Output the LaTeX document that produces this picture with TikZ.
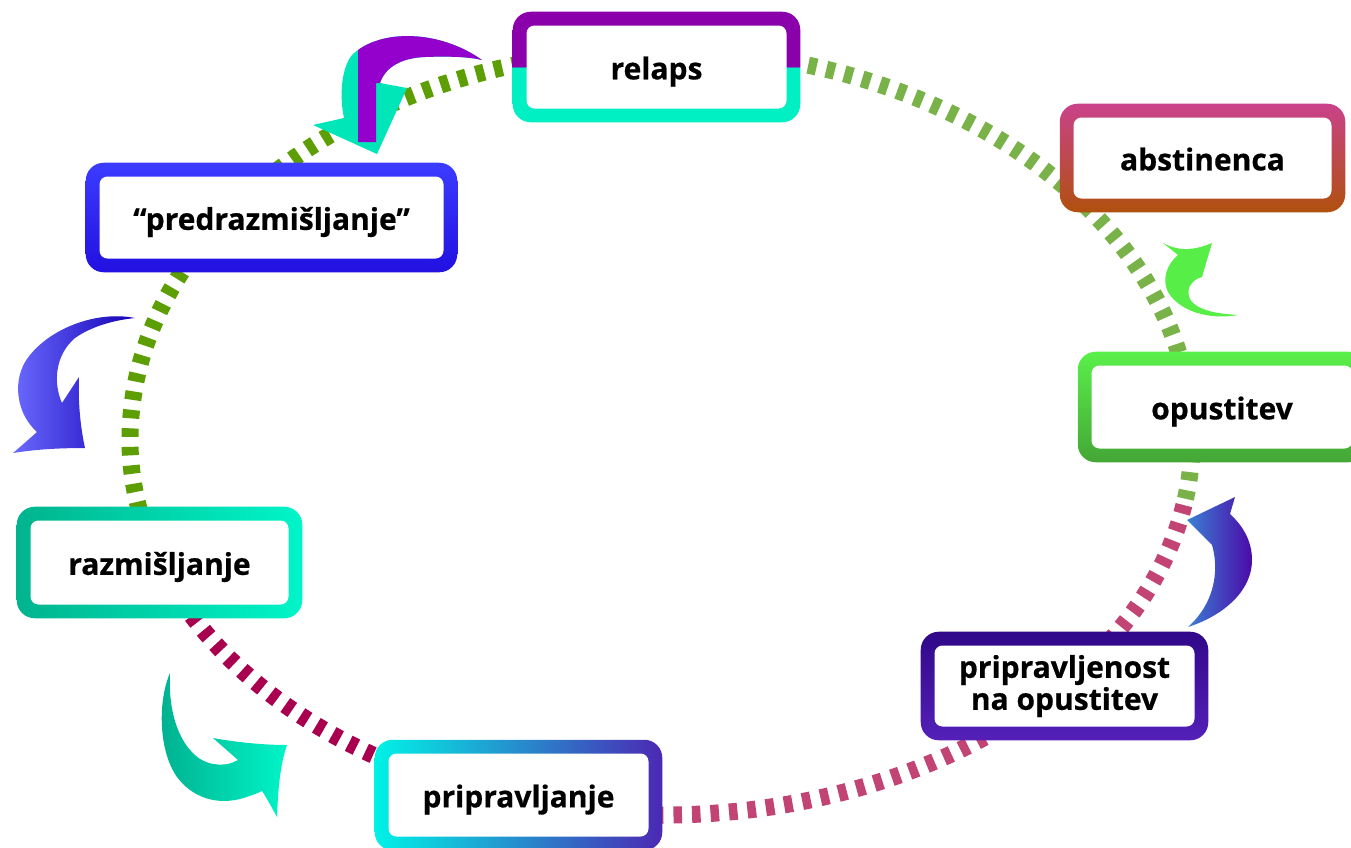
\documentclass[tikz,border=0pt]{standalone}
\usepackage{fontspec}
\setmainfont{Open Sans}[BoldFeatures={FakeBold=0.6}]
\usetikzlibrary{calc,backgrounds}
\definecolor{ringGa}{HTML}{5C9E04}
\definecolor{ringGb}{HTML}{7AB24A}
\definecolor{ringRa}{HTML}{A8004E}
\definecolor{ringRb}{HTML}{C24474}
\definecolor{rlPurp}{HTML}{8A00AA}
\definecolor{rlTeal}{HTML}{00F0C4}
\definecolor{abTop}{HTML}{CA428A}
\definecolor{abBot}{HTML}{B0500E}
\definecolor{prTop}{HTML}{3C3CFF}
\definecolor{prBot}{HTML}{2210E0}
\definecolor{opTop}{HTML}{5AF04A}
\definecolor{opBot}{HTML}{44A636}
\definecolor{raLeft}{HTML}{00B48E}
\definecolor{raRight}{HTML}{00F5C8}
\definecolor{ppLeft}{HTML}{00F2E6}
\definecolor{ppMid}{HTML}{0A8ED2}
\definecolor{ppRight}{HTML}{4C28B4}
\definecolor{poTop}{HTML}{300888}
\definecolor{poBot}{HTML}{5420B8}
\definecolor{arPurp}{HTML}{9400CC}
\definecolor{arTeal}{HTML}{00E6B8}
\definecolor{arBlueL}{HTML}{6B6BFF}
\definecolor{arBlueR}{HTML}{1500B5}
\definecolor{arTealL}{HTML}{00B08E}
\definecolor{arTealR}{HTML}{00F5C8}
\definecolor{arVioL}{HTML}{3B7FD4}
\definecolor{arVioR}{HTML}{4B0AA8}
\definecolor{arGreen}{HTML}{58EE48}
\pgfdeclareverticalshading{relapsframe}{100bp}{color(0bp)=(rlTeal); color(50bp)=(rlTeal); color(50bp)=(rlPurp); color(100bp)=(rlPurp)}
\tikzset{
  stage/.style={fill=white, rounded corners=6pt, inner sep=0pt, text=black,
    font=\fontsize{22.5pt}{24pt}\selectfont\bfseries, align=center},
  oneline/.style={text height=18.5pt, text depth=0pt},
  frame/.style={rounded corners=13.5pt},
  ring/.style={line width=12.75pt, dash pattern=on 6.4pt off 7.5pt},
}
\def\arrowOne{(482,60) .. controls (440,30) and (380,28) .. (352,55) .. controls (340,70) and (340,100) .. (344,118) -- (313,125) -- (377,154) -- (407,88) -- (380,83) .. controls (385,68) and (400,58) .. (425,57) .. controls (450,56) and (470,57) .. (482,60) -- cycle}
\begin{document}
\begin{tikzpicture}[x=0.75pt,y=-0.75pt]
\useasboundingbox (0,0) rectangle (1351,847);
\clip (0,0) rectangle (1351,847);

% stages
\node[stage,oneline,minimum width=195pt,minimum height=62.25pt] (relaps) at (656.5,67) {relaps};
\node[stage,oneline,minimum width=193.5pt,minimum height=60.75pt] (abst) at (1202.5,158) {abstinenca};
\node[stage,oneline,minimum width=258pt,minimum height=61.5pt] (predr) at (271.5,217.5) {“predrazmišljanje”};
\node[stage,oneline,minimum width=195.75pt,minimum height=62.25pt] (opust) at (1222,407) {opustitev};
\node[stage,oneline,minimum width=193.5pt,minimum height=63pt] (razm) at (159.5,562.5) {razmišljanje};
\node[stage,oneline,minimum width=195pt,minimum height=62.25pt] (pripr) at (518.5,795) {pripravljanje};
\node[stage,minimum width=195pt,minimum height=60.75pt] (priprop) at (1064.5,686) {pripravljenost\\na opustitev};

\begin{scope}[on background layer]
  % dashed cycle
  \draw[ring,draw=ringGa] (158.9,562.1) arc[start angle=161,end angle=180,x radius=531,y radius=375]
        arc[start angle=180,end angle=270,x radius=531,y radius=390];
  \draw[ring,draw=ringGb] (661,50) arc[start angle=270,end angle=360,x radius=531,y radius=390]
        arc[start angle=0,end angle=10,x radius=531,y radius=375];
  \draw[ring,draw=ringRb] (1183.9,505.1) arc[start angle=10,end angle=100,x radius=531,y radius=375];
  \draw[ring,draw=ringRa] (568.8,809.3) arc[start angle=100,end angle=161,x radius=531,y radius=375];
  % frames
  \shade[frame,shading=relapsframe] ($(relaps.north west)+(-13.5,-13.5)$) rectangle ($(relaps.south east)+(13.5,13.5)$);
  \shade[frame,top color=abTop,bottom color=abBot] ($(abst.north west)+(-13.5,-13.5)$) rectangle ($(abst.south east)+(13.5,13.5)$);
  \shade[frame,top color=prTop,bottom color=prBot] ($(predr.north west)+(-13.5,-13.5)$) rectangle ($(predr.south east)+(13.5,13.5)$);
  \shade[frame,top color=opTop,bottom color=opBot] ($(opust.north west)+(-13.5,-13.5)$) rectangle ($(opust.south east)+(13.5,13.5)$);
  \shade[frame,left color=raLeft,right color=raRight] ($(razm.north west)+(-13.5,-13.5)$) rectangle ($(razm.south east)+(13.5,13.5)$);
  \shade[frame,left color=ppLeft,middle color=ppMid,right color=ppRight] ($(pripr.north west)+(-13.5,-13.5)$) rectangle ($(pripr.south east)+(13.5,13.5)$);
  \shade[frame,top color=poTop,bottom color=poBot] ($(priprop.north west)+(-13.5,-13.5)$) rectangle ($(priprop.south east)+(13.5,13.5)$);
\end{scope}

% curved arrows
\fill[arTeal] \arrowOne;
\begin{scope}
  \clip \arrowOne;
  \fill[arPurp] (358,20) -- (510,20) -- (510,83) -- (376,83) -- (376,142) -- (358,142) -- cycle;
\end{scope}
\shade[left color=arBlueL,right color=arBlueR] (135,318) .. controls (95,310) and (45,330) .. (25,362) .. controls (12,385) and (18,415) .. (37,432) .. controls (28,440) and (20,447) .. (13,453) .. controls (38,449) and (62,448) .. (85,448) .. controls (80,425) and (78,400) .. (79,377) -- (62,403) .. controls (53,383) and (55,355) .. (75,338) .. controls (92,326) and (115,320) .. (135,318) -- cycle;
\shade[left color=arTealL,right color=arTealR] (170,673) .. controls (158,700) and (158,750) .. (177,777) .. controls (192,797) and (215,805) .. (240,799) .. controls (250,796) and (256,794) .. (262,791) .. controls (268,800) and (272,808) .. (277,817) .. controls (278,790) and (280,765) .. (287,745) .. controls (262,745) and (235,742) .. (213,738) -- (238,760) .. controls (225,768) and (205,765) .. (195,755) .. controls (178,740) and (168,710) .. (170,673) -- cycle;
\shade[left color=arVioL,right color=arVioR] (1188,627) .. controls (1225,615) and (1252,590) .. (1252,560) .. controls (1252,540) and (1242,525) .. (1230,514) -- (1235,497) -- (1187,520) -- (1212,545) .. controls (1218,565) and (1218,600) .. (1188,627) -- cycle;
\fill[arGreen] (1238,315) .. controls (1210,320) and (1180,312) .. (1168,292) .. controls (1162,280) and (1166,265) .. (1178,255) -- (1163,243) .. controls (1180,252) and (1195,250) .. (1212,243) -- (1202,277) .. controls (1190,280) and (1184,292) .. (1192,302) .. controls (1202,312) and (1222,314) .. (1238,315) -- cycle;
\end{tikzpicture}
\end{document}
